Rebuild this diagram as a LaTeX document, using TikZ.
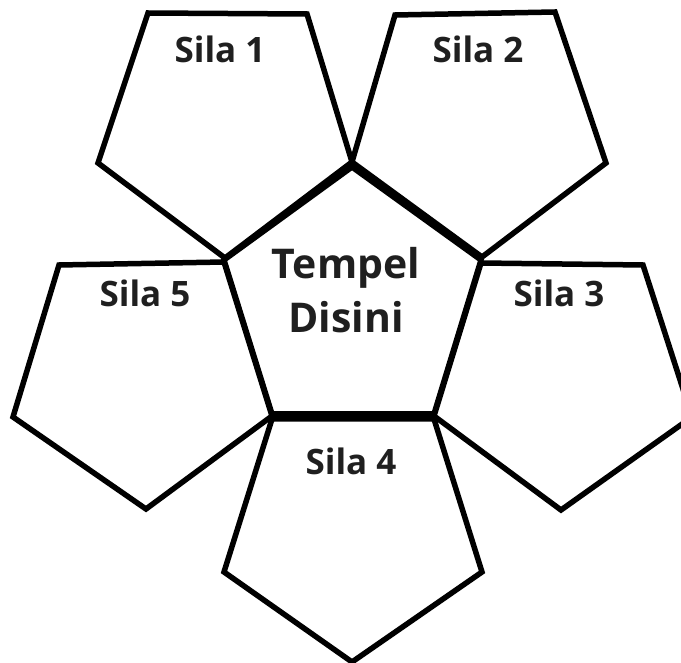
\documentclass[tikz,border=0pt]{standalone}
\usepackage{fontspec}
\setmainfont{Open Sans}
\begin{document}
\begin{tikzpicture}[x=1pt,y=-1pt,
  pent/.style={draw=black,line width=5.5pt,line join=miter},
  sila/.style={font=\fontsize{35}{40}\selectfont\bfseries,text=black!88,anchor=base,inner sep=0pt},
  big/.style={font=\fontsize{41}{54}\selectfont\bfseries,text=black!88,align=center,inner sep=0pt}]
\useasboundingbox[fill=white] (0,0) rectangle (681,663);
% centre pentagon
\coordinate (c1) at (352,167);
\coordinate (c2) at (481,260);
\coordinate (c3) at (434,414);
\coordinate (c4) at (272,414);
\coordinate (c5) at (224,260);
% Sila 1
\coordinate (a1) at (148,13);
\coordinate (a2) at (307,14);
\coordinate (a3) at (352,162);
\coordinate (a4) at (225,258);
\coordinate (a5) at (98,163);
% Sila 2
\coordinate (b1) at (395,15);
\coordinate (b2) at (555,12);
\coordinate (b3) at (606,163);
\coordinate (b4) at (482,257);
\coordinate (b5) at (352,162);
% Sila 3
\coordinate (d1) at (481,263);
\coordinate (d2) at (643,265);
\coordinate (d3) at (692,417);
\coordinate (d4) at (561,510);
\coordinate (d5) at (434,416);
% Sila 4
\coordinate (e1) at (272,419);
\coordinate (e2) at (434,419);
\coordinate (e3) at (482,572);
\coordinate (e4) at (352,662);
\coordinate (e5) at (224,572);
% Sila 5
\coordinate (f1) at (59,265);
\coordinate (f2) at (224,262);
\coordinate (f3) at (272,416);
\coordinate (f4) at (146,509);
\coordinate (f5) at (13,417);

\draw[pent] (a1) -- (a2) -- (a3) -- (a4) -- (a5) -- cycle;
\draw[pent] (b1) -- (b2) -- (b3) -- (b4) -- (b5) -- cycle;
\draw[pent] (d1) -- (d2) -- (d3) -- (d4) -- (d5) -- cycle;
\draw[pent] (e1) -- (e2) -- (e3) -- (e4) -- (e5) -- cycle;
\draw[pent] (f1) -- (f2) -- (f3) -- (f4) -- (f5) -- cycle;
\draw[pent] (c1) -- (c2) -- (c3) -- (c4) -- (c5) -- cycle;

\node[sila] (s1) at (220,63) {Sila 1};
\node[sila] (s2) at (478,63) {Sila 2};
\node[sila] (s3) at (559,307) {Sila 3};
\node[sila] (s4) at (351,475) {Sila 4};
\node[sila] (s5) at (145,307) {Sila 5};
\node[big] (tm) at (346,290) {Tempel\\Disini};
\end{tikzpicture}
\end{document}
